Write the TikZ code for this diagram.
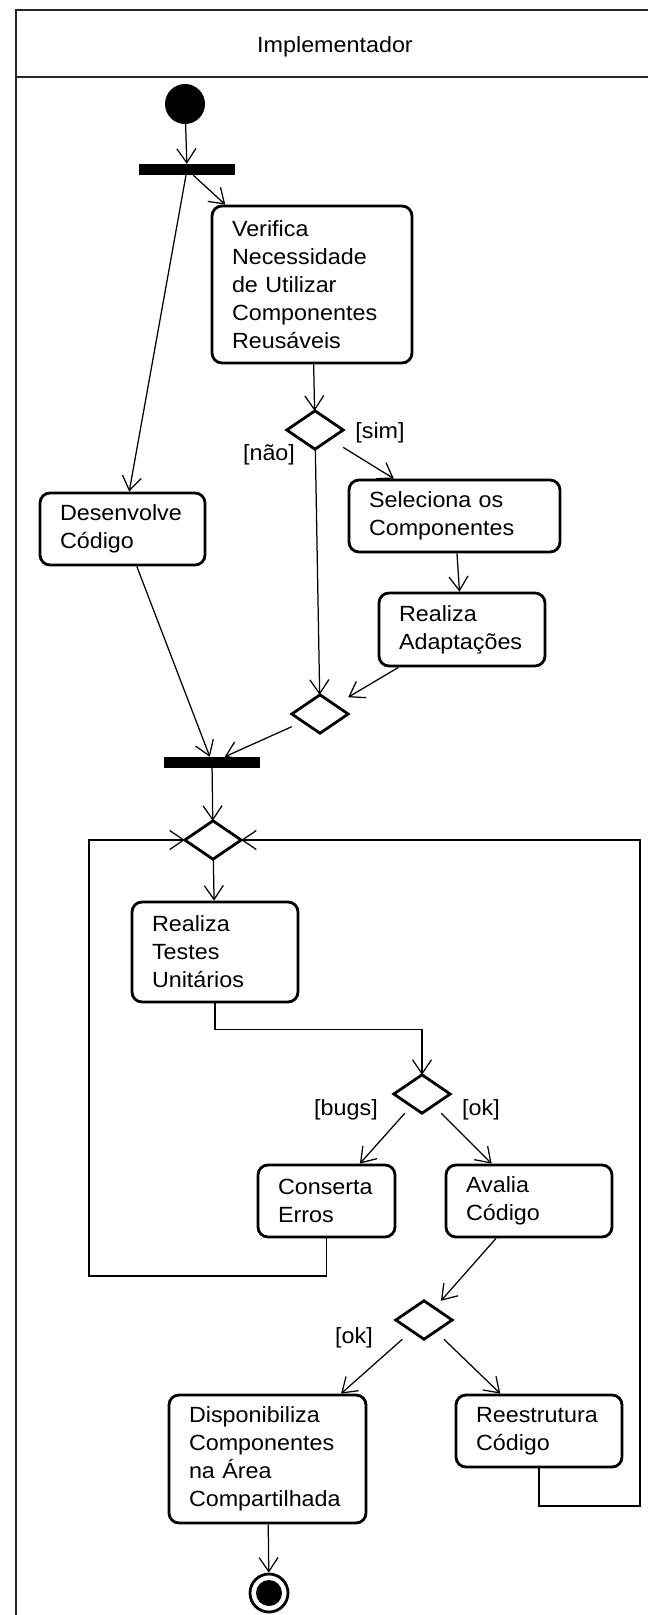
\documentclass[tikz,border=0pt]{standalone}
\usepackage{fontspec}
\setmainfont{Liberation Sans}[FakeStretch=1.06]
\usetikzlibrary{arrows.meta}
\begin{document}
\begin{tikzpicture}[x=1pt,y=-1pt,
  font=\fontsize{22}{28}\selectfont,
  frameline/.style={line width=2.8pt, black!85},
  flow/.style={line width=1.25pt, -{Straight Barb[length=14pt,width=19pt,line width=1.25pt]}},
  action/.style={draw, line width=2.8pt, rounded corners=10pt, align=left,
                 inner xsep=20pt, inner ysep=0pt},
  decision/.style={rectangle, minimum width=56pt, minimum height=38pt, inner sep=0pt},
  diamondline/.style={line width=2.8pt, line join=miter},
  bar/.style={rectangle, fill=black, minimum width=96pt, minimum height=11pt, inner sep=0pt},
  guard/.style={inner sep=0pt},
]
\useasboundingbox (0,0) rectangle (648,1615);

% swimlane frame and title
\draw[frameline] (648,10) -- (16,10) -- (16,1615);
\draw[frameline] (16,77) -- (648,77);
\node (lane) at (335,47) {Implementador};

% start, fork and the first actions
\node[circle, fill=black, minimum size=40pt, inner sep=0pt] (start) at (185,104) {};
\node[bar] (fork) at (187,169.5) {};
\node[action, text width=160pt, minimum height=157pt] (ver) at (312,284.5)
  {Verifica\\Necessidade\\de Utilizar\\Componentes\\Reusáveis};
\node[action, text width=125pt, minimum height=72pt] (dev) at (122.5,529)
  {Desenvolve\\Código};
\node[decision] (d1) at (315,430) {};
\node[action, text width=171pt, minimum height=72pt] (sel) at (454.5,516)
  {Seleciona os\\Componentes};
\node[action, text width=126pt, minimum height=73pt] (adp) at (462,629.5)
  {Realiza\\Adaptações};
\node[decision] (m1) at (320,714) {};
\node[bar] (join) at (212,762.5) {};

% test loop
\node[decision] (d3) at (213,840) {};
\node[action, text width=126pt, minimum height=100pt] (tst) at (215,952)
  {Realiza\\Testes\\Unitários};
\node[decision] (d4) at (422,1094) {};
\node[action, text width=97pt, minimum height=72pt] (fix) at (326.5,1201)
  {Conserta\\Erros};
\node[action, text width=126pt, minimum height=72pt] (rev) at (529,1201)
  {Avalia\\Código};
\node[decision] (d5) at (424,1320) {};
\node[action, text width=157pt, minimum height=128pt] (pub) at (267.5,1459)
  {Disponibiliza\\Componentes\\na Área\\Compartilhada};
\node[action, text width=126pt, minimum height=72pt] (ref) at (539,1431)
  {Reestrutura\\Código};
\node[circle, draw, line width=2.8pt, minimum size=38pt, inner sep=0pt,
      path picture={\fill (path picture bounding box.center) circle (13pt);}]
  (stop) at (269,1593) {};

% decision diamonds
\foreach \d in {d1,m1,d3,d4,d5}
  \draw[diamondline] (\d.north) -- (\d.east) -- (\d.south) -- (\d.west) -- cycle;

% guards
\node[guard] (gsim) at (380,433) {[sim]};
\node[guard] (gnao) at (269,455) {[não]};
\node[guard] (gbug) at (346,1110) {[bugs]};
\node[guard] (gok1) at (481,1110) {[ok]};
\node[guard] (gok2) at (354,1338) {[ok]};

% loop corners
\coordinate (loopL) at (89,1276);
\coordinate (loopR) at (640,1506);

% control flow
\draw[flow] (start) -- (fork);
\draw[flow] (fork) -- (ver);
\draw[flow] (fork) -- (dev);
\draw[flow] (ver) -- (d1);
\draw[flow] (d1) -- (sel);
\draw[flow] (d1) -- (m1);
\draw[flow] (sel) -- (adp);
\draw[flow] (adp) -- (m1);
\draw[flow] (dev) -- (join);
\draw[flow] (m1) -- (join);
\draw[flow] (join) -- (d3);
\draw[flow] (d3) -- (tst);
\draw[flow] (tst.south) -- ++(0,26) -| (d4.north);
\draw[flow] (d4) -- (fix);
\draw[flow] (d4) -- (rev);
\draw[flow] (fix.south) |- (loopL) |- (d3.west);
\draw[flow] (rev) -- (d5);
\draw[flow] (d5) -- (pub);
\draw[flow] (d5) -- (ref);
\draw[flow] (ref.south) |- (loopR) |- (d3.east);
\draw[flow] (pub) -- (stop);
\end{tikzpicture}
\end{document}
